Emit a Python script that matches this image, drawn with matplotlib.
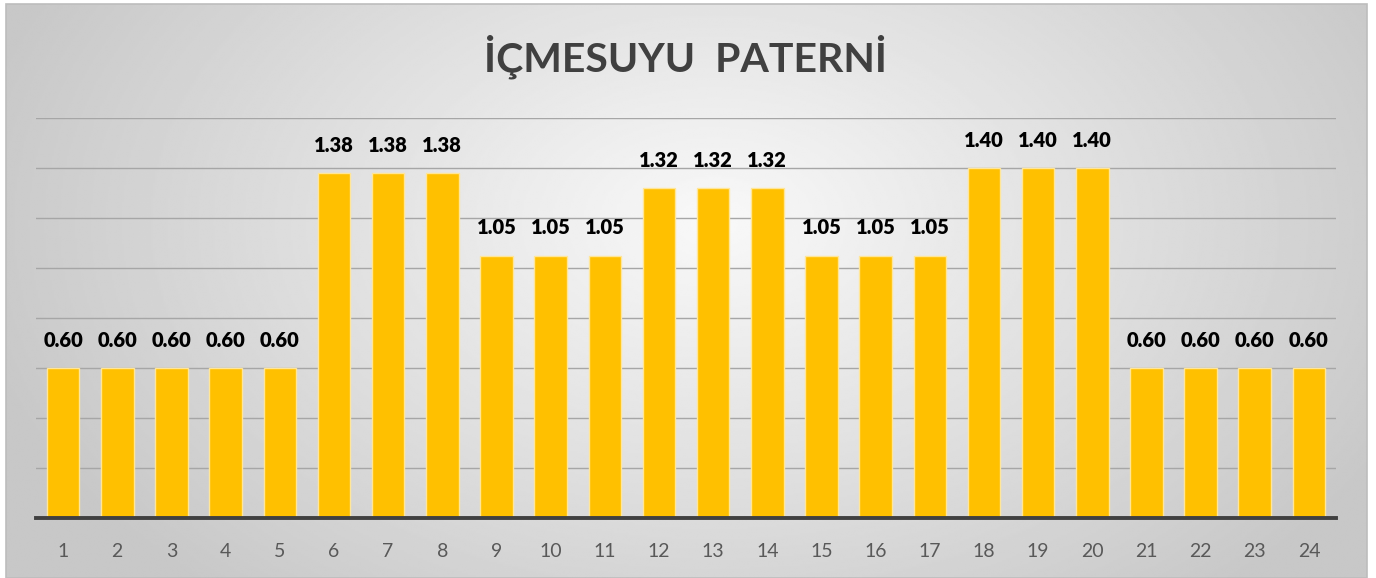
import matplotlib as mpl
mpl.use('Agg')
import matplotlib.pyplot as plt
import numpy as np

# hours and pattern factors
hours = [str(h) for h in range(1, 25)]
factors = [0.60, 0.60, 0.60, 0.60, 0.60, 1.38, 1.38, 1.38, 1.05, 1.05, 1.05, 1.32,
           1.32, 1.32, 1.05, 1.05, 1.05, 1.40, 1.40, 1.40, 0.60, 0.60, 0.60, 0.60]
title = 'İÇMESUYU  PATERNİ'

W, H = 1376, 578
fig = plt.figure(figsize=(W / 100, H / 100), dpi=100)
fig.patch.set_facecolor('white')

# radial gray background of the chart area
bg = fig.add_axes([6 / W, 0, (1367 - 6) / W, (H - 4) / H])
ny, nx = 300, 700
yy, xx = np.mgrid[0:ny, 0:nx]
d = np.sqrt(((xx - nx * 0.52) / (nx * 0.55)) ** 2 + ((yy - ny * 0.38) / (ny * 0.85)) ** 2)
shade = 0.975 - 0.19 * np.clip(d, 0, 1)
bg.imshow(shade, cmap='gray', vmin=0, vmax=1, aspect='auto', interpolation='bilinear')
bg.set_axis_off()
bg.add_patch(plt.Rectangle((0, 0), 1, 1, transform=bg.transAxes, fill=False,
                           edgecolor='#bdbdbd', linewidth=1.2, clip_on=False))

ax = fig.add_axes([36 / W, 60 / H, 1300 / W, 400 / H])
ax.patch.set_alpha(0)
x = np.arange(len(hours))
bars = ax.bar(x, factors, width=0.6, color='#FFC000', edgecolor='#FFE699', linewidth=1.0, zorder=3)

for xi, v in zip(x, factors):
    ax.annotate('{:.2f}'.format(v), (xi, v), xytext=(0, 13), textcoords='offset points',
                ha='center', va='bottom', fontsize=14.5, fontweight='heavy', family='Lato',
                color='black')

ax.set_xlim(-0.5, len(hours) - 0.5)
ax.set_ylim(0, 1.6)
ax.set_yticks(np.arange(0, 1.61, 0.2))
ax.yaxis.grid(True, color='#a6a6a6', linewidth=1.0, zorder=0)
ax.tick_params(axis='y', left=False, labelleft=False)
ax.set_xticks(x)
ax.set_xticklabels(hours, family='Lato', fontsize=14, color='#595959')
ax.tick_params(axis='x', length=0, pad=18)
for sp in ['top', 'right', 'left']:
    ax.spines[sp].set_visible(False)
ax.spines['bottom'].set_color('#404040')
ax.spines['bottom'].set_linewidth(2.8)
ax.spines['bottom'].set_zorder(4)

fig.text(686 / W, 1 - 57 / H, title, ha='center', va='center', fontsize=29.5,
         fontweight='bold', family='Lato', color='#404040')

fig.savefig('out.png', dpi=100)
